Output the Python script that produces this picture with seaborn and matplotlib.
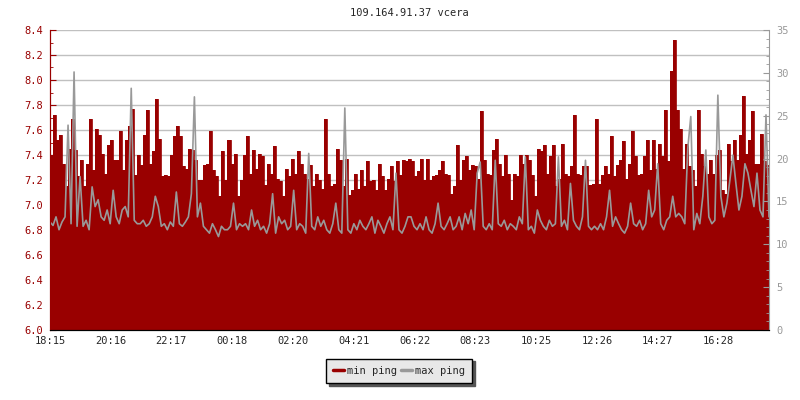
import numpy as np
import pandas as pd
import matplotlib.pyplot as plt
import seaborn as sns
from matplotlib.lines import Line2D
from matplotlib.ticker import MultipleLocator

sns.set_style("white")
plt.rcParams['font.family'] = ['DejaVu Sans Mono']

RED = "#990000"
GRAY = "#999999"

# min ping (left axis, ms) - one value every 6 minutes from 18:15
min_ping = [
    7.39, 7.72, 7.52, 7.56, 7.33, 7.15, 7.45, 7.69, 7.44, 7.23, 7.36, 7.15, 7.33, 7.69, 7.28,
    7.61, 7.56, 7.41, 7.25, 7.48, 7.52, 7.36, 7.36, 7.59, 7.28, 7.52, 7.63, 7.77, 7.24, 7.40,
    7.32, 7.56, 7.76, 7.33, 7.43, 7.85, 7.53, 7.23, 7.24, 7.23, 7.40, 7.55, 7.63, 7.55, 7.31,
    7.29, 7.45, 7.44, 7.36, 7.20, 7.20, 7.32, 7.33, 7.59, 7.28, 7.23, 7.07, 7.43, 7.20, 7.52,
    7.33, 7.41, 7.07, 7.20, 7.40, 7.55, 7.25, 7.44, 7.29, 7.41, 7.39, 7.16, 7.33, 7.25, 7.47,
    7.21, 7.19, 7.07, 7.29, 7.23, 7.37, 7.25, 7.43, 7.33, 7.25, 7.21, 7.32, 7.15, 7.25, 7.20,
    7.13, 7.69, 7.25, 7.15, 7.17, 7.45, 7.36, 7.15, 7.37, 7.08, 7.12, 7.25, 7.13, 7.28, 7.15,
    7.35, 7.19, 7.20, 7.12, 7.33, 7.23, 7.12, 7.21, 7.31, 7.19, 7.35, 7.24, 7.36, 7.35, 7.37,
    7.35, 7.23, 7.27, 7.37, 7.20, 7.37, 7.20, 7.23, 7.24, 7.28, 7.35, 7.25, 7.24, 7.09, 7.15,
    7.48, 7.20, 7.36, 7.39, 7.28, 7.32, 7.31, 7.21, 7.75, 7.36, 7.25, 7.24, 7.44, 7.53, 7.33,
    7.23, 7.40, 7.25, 7.04, 7.25, 7.23, 7.40, 7.33, 7.40, 7.36, 7.24, 7.07, 7.45, 7.43, 7.48,
    7.25, 7.39, 7.48, 7.15, 7.21, 7.49, 7.25, 7.23, 7.31, 7.72, 7.25, 7.24, 7.31, 7.31, 7.16,
    7.17, 7.69, 7.17, 7.24, 7.31, 7.25, 7.55, 7.23, 7.32, 7.36, 7.51, 7.21, 7.33, 7.59, 7.39,
    7.24, 7.25, 7.39, 7.52, 7.28, 7.52, 7.29, 7.49, 7.39, 7.76, 7.35, 8.07, 8.32, 7.76, 7.61,
    7.29, 7.49, 7.31, 7.28, 7.15, 7.76, 7.41, 7.31, 7.25, 7.36, 7.25, 7.40, 7.44, 7.12, 7.09,
    7.49, 7.35, 7.52, 7.36, 7.56, 7.87, 7.41, 7.52, 7.75, 7.33, 7.33, 7.57, 7.35, 7.32, 7.65,
]

# max ping (right axis, ms)
max_ping = [
    12.6, 12.2, 13.2, 11.7, 12.6, 13.2, 23.9, 12.4, 30.1, 12.1, 17.9, 12.1, 12.8, 11.7, 16.7,
    14.4, 15.2, 13.2, 12.8, 14.0, 12.4, 16.3, 13.2, 12.4, 14.0, 14.4, 13.2, 28.2, 12.8, 12.4,
    12.4, 12.8, 12.1, 12.4, 13.2, 15.6, 14.4, 12.1, 12.4, 11.7, 12.6, 12.1, 16.1, 12.4, 12.1,
    12.6, 13.2, 15.9, 27.2, 13.2, 14.8, 12.1, 11.7, 11.3, 12.4, 11.7, 10.9, 12.1, 11.7, 11.7,
    12.1, 14.8, 11.7, 12.4, 12.1, 12.4, 11.7, 14.0, 12.1, 12.8, 11.7, 12.1, 11.3, 12.4, 15.9,
    11.3, 13.2, 12.4, 12.8, 11.7, 12.1, 16.3, 11.7, 12.4, 12.1, 11.3, 20.6, 12.1, 11.7, 13.2,
    12.1, 12.8, 11.7, 11.3, 12.4, 14.8, 11.7, 11.3, 25.9, 11.7, 11.3, 12.4, 11.7, 12.8, 12.1,
    11.7, 12.4, 13.2, 11.3, 12.8, 12.1, 11.3, 12.4, 13.2, 11.7, 18.3, 11.7, 11.3, 12.1, 13.2,
    13.2, 12.1, 11.7, 12.4, 11.7, 13.2, 11.7, 11.3, 12.4, 14.8, 12.1, 11.7, 12.4, 13.2, 11.7,
    12.1, 13.2, 11.7, 13.6, 12.4, 14.0, 11.7, 18.3, 19.6, 12.1, 11.7, 12.4, 11.7, 19.8, 12.4,
    12.1, 12.8, 11.7, 12.4, 12.1, 11.7, 13.2, 12.4, 20.2, 11.7, 12.1, 11.3, 14.0, 12.8, 12.1,
    11.7, 12.8, 12.1, 12.4, 20.2, 12.1, 12.8, 11.7, 17.1, 12.8, 12.1, 11.7, 13.2, 19.8, 12.1,
    11.7, 12.1, 11.7, 12.4, 11.7, 13.2, 16.3, 12.1, 13.2, 12.4, 11.7, 11.3, 12.1, 14.8, 12.4,
    12.1, 12.8, 11.7, 12.4, 16.3, 13.2, 14.0, 19.4, 12.4, 11.7, 12.8, 13.2, 15.6, 13.2, 13.6,
    13.2, 12.4, 21.2, 24.9, 11.7, 13.6, 12.4, 15.6, 21.0, 13.2, 12.4, 12.8, 27.4, 15.6, 13.2,
    14.8, 17.5, 20.4, 17.1, 14.0, 15.6, 19.4, 18.3, 16.3, 14.4, 18.3, 14.0, 13.2, 25.1, 13.2,
]

tick_labels = ["18:15", "20:16", "22:17", "00:18", "02:20", "04:21",
               "06:22", "08:23", "10:25", "12:26", "14:27", "16:28"]

start = pd.Timestamp("2000-01-01 18:15")
times = pd.date_range(start, periods=len(min_ping), freq="6min")
df = pd.DataFrame({"time": times, "min ping": min_ping, "max ping": max_ping})

# tick positions from the labels (wrap past midnight)
tick_times = []
day = start.normalize()
for lab in tick_labels:
    t = day + pd.Timedelta(lab + ":00")
    if tick_times and t < tick_times[-1]:
        day += pd.Timedelta(days=1)
        t += pd.Timedelta(days=1)
    tick_times.append(t)

fig = plt.figure(figsize=(8, 4), dpi=100)
ax = fig.add_axes([50 / 800, 70 / 400, 719 / 800, 300 / 400])

ax.fill_between(df["time"], 6.0, df["min ping"], step="post", color=RED, lw=0)
sns.lineplot(data=df, x="time", y="min ping", ax=ax, color=RED, lw=0.6,
             drawstyle="steps-post")
ax.set_ylim(6.0, 8.4)
ax.set_xlim(times[0], times[-1])
ax.yaxis.set_major_locator(MultipleLocator(0.2))
ax.yaxis.set_minor_locator(MultipleLocator(0.1))
ax.yaxis.set_major_formatter(lambda v, p: f"{v:.1f}")
ax.yaxis.grid(True, color="#c0c0c0", lw=1)
ax.set_axisbelow(True)
ax.set_xticks(tick_times)
ax.set_xticklabels(tick_labels)
ax.set_xlabel("")
ax.set_ylabel("")
ax.tick_params(axis="y", which="both", direction="in", colors=RED, labelsize=7.5, pad=5)
ax.tick_params(axis="y", which="major", length=4)
ax.tick_params(axis="y", which="minor", length=2)
ax.tick_params(axis="x", direction="in", length=4, labelsize=7.5, pad=4)
for side in ["top", "right"]:
    ax.spines[side].set_visible(False)
ax.spines["left"].set_color(RED)
ax.spines["bottom"].set_color("black")

ax2 = ax.twinx()
sns.lineplot(data=df, x="time", y="max ping", ax=ax2, color=GRAY, lw=1.2)
ax2.set_ylim(0, 35)
ax2.set_xlim(times[0], times[-1])
ax2.yaxis.set_major_locator(MultipleLocator(5))
ax2.yaxis.set_minor_locator(MultipleLocator(1))
ax2.set_ylabel("")
ax2.set_xlabel("")
ax2.tick_params(axis="y", which="both", direction="in", colors=GRAY, labelsize=7.5, pad=5)
ax2.tick_params(axis="y", which="major", length=4)
ax2.tick_params(axis="y", which="minor", length=2)
# draw bottom ticks on top of the fill
ax2.tick_params(axis="x", bottom=True, labelbottom=False, direction="in", length=4,
                color="black")
ax2.spines["top"].set_visible(False)
ax2.spines["left"].set_color(RED)
ax2.spines["right"].set_color(GRAY)
ax2.spines["bottom"].set_color("black")

fig.text(409.5 / 800, 1 - 13 / 400, "109.164.91.37 vcera", ha="center", va="center",
         fontsize=7.5)

handles = [Line2D([], [], color=RED, lw=2.5), Line2D([], [], color=GRAY, lw=2.5)]
leg = fig.legend(handles, ["min ping", "max ping"], loc="center",
                 bbox_to_anchor=(399 / 800, 1 - 371 / 400), ncol=2, fontsize=7.5,
                 frameon=True, fancybox=False, shadow={"color": "#555555", "alpha": 1},
                 edgecolor="black", facecolor="#e8e8e8", framealpha=1,
                 handlelength=1.0, handletextpad=0.3, columnspacing=0.4, borderpad=0.7)
leg.get_frame().set_linewidth(1)

fig.savefig("out.png", dpi=100)
